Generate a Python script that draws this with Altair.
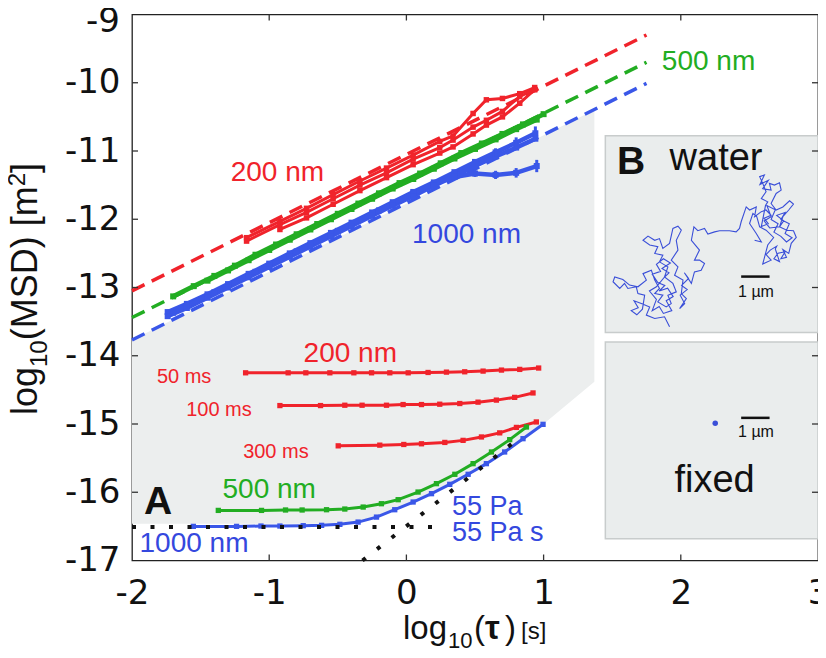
import altair as alt
import pandas as pd

W, H = 686, 546
FONT = "Liberation Sans"
TICKFONT = "DejaVu Sans"
RED = "#f0232b"
GREEN = "#22ad22"
BLUE = "#3a57e8"
TBLUE = "#3448de"
SHADE = "#eceeee"

# ---------------- data ----------------
x_ticks = [-2, -1, 0, 1, 2, 3]
y_ticks = [-17, -16, -15, -14, -13, -12, -11, -10, -9]

# diffusive fits (dashed)
fit_x = [-2.0, 1.75]
fit_red = [-13.05, -9.30]
fit_green = [-13.44, -9.70]
fit_blue = [-13.77, -10.01]

# free diffusion MSD curves (upper)
ra_x = [-1.165, -0.922, -0.728, -0.534, -0.339, -0.145, 0.049, 0.243, 0.34, 0.486, 0.583, 0.70, 0.826, 0.935]
ra_y = [-12.27, -12.03, -11.84, -11.64, -11.44, -11.25, -11.06, -10.86, -10.78, -10.45, -10.25, -10.23, -10.16, -10.07]
rb_x = [-0.922, -0.728, -0.534, -0.339, -0.145, 0.049, 0.243, 0.34, 0.486, 0.583, 0.70, 0.826, 0.935]
rb_y = [-12.15, -11.98, -11.78, -11.58, -11.39, -11.20, -11.03, -10.94, -10.75, -10.62, -10.50, -10.30, -10.10]
rc_x = [-1.165, -0.922, -0.728, -0.534, -0.339, -0.145, 0.049, 0.243, 0.34, 0.486, 0.583, 0.70, 0.826, 0.935]
rc_y = [-12.32, -12.08, -11.90, -11.70, -11.50, -11.32, -11.12, -10.95, -10.84, -10.65, -10.55, -10.42, -10.20, -10.10]

g1_x = [-1.70, -1.55, -1.40, -1.25, -1.10, -0.95, -0.80, -0.65, -0.50, -0.35, -0.20, -0.05, 0.10, 0.25, 0.40, 0.55, 0.70, 0.85, 1.00]
g1_y = [-13.13, -12.98, -12.83, -12.68, -12.52, -12.37, -12.22, -12.07, -11.92, -11.77, -11.62, -11.47, -11.33, -11.18, -11.03, -10.89, -10.75, -10.61, -10.46]
g2_x = [-1.45, -1.30, -1.15, -1.00, -0.85, -0.70, -0.55, -0.40, -0.25, -0.10, 0.05, 0.20, 0.35, 0.50, 0.65, 0.80, 0.95]
g2_y = [-12.90, -12.75, -12.60, -12.45, -12.30, -12.15, -12.00, -11.85, -11.70, -11.55, -11.41, -11.26, -11.11, -10.97, -10.83, -10.68, -10.54]

b1_x = [-1.74, -1.60, -1.45, -1.30, -1.15, -1.00, -0.85, -0.70, -0.55, -0.40, -0.25, -0.10, 0.05, 0.20, 0.35, 0.50, 0.65, 0.80, 0.94]
b1_y = [-13.36, -13.24, -13.10, -12.95, -12.80, -12.65, -12.50, -12.35, -12.20, -12.05, -11.90, -11.75, -11.60, -11.46, -11.31, -11.16, -11.02, -10.88, -10.74]
b2_y = [-13.42, -13.30, -13.15, -13.00, -12.85, -12.70, -12.55, -12.40, -12.25, -12.10, -11.95, -11.80, -11.66, -11.51, -11.37, -11.22, -11.08, -10.95, -10.82]
b3_x = [-1.70, -1.40, -1.10, -0.80, -0.50, -0.20, 0.05, 0.20, 0.35, 0.50, 0.65, 0.80, 0.95]
b3_y = [-13.37, -13.07, -12.77, -12.47, -12.17, -11.87, -11.62, -11.48, -11.38, -11.33, -11.35, -11.32, -11.22]

err_x = [0.50, 0.65, 0.80, 0.95, 0.65, 0.80, 0.94]
err_y = [-11.33, -11.35, -11.32, -11.22, -11.02, -10.88, -10.74]
err_h = [0.05, 0.06, 0.07, 0.09, 0.06, 0.08, 0.10]

# 200 nm particle in gel at three exposure times (lower red)
r50_x = [-1.172, -0.862, -0.733, -0.558, -0.383, -0.254, -0.121, 0.013, 0.158, 0.292, 0.425, 0.559, 0.693, 0.826, 0.964]
r50_y = [-14.25, -14.25, -14.25, -14.25, -14.25, -14.25, -14.25, -14.25, -14.245, -14.24, -14.235, -14.225, -14.21, -14.20, -14.18]
r100_x = [-0.922, -0.626, -0.449, -0.323, -0.145, -0.024, 0.110, 0.243, 0.389, 0.522, 0.656, 0.789, 0.923]
r100_y = [-14.73, -14.73, -14.725, -14.725, -14.725, -14.715, -14.715, -14.71, -14.70, -14.68, -14.65, -14.61, -14.545]
r300_x = [-0.497, -0.194, -0.019, 0.110, 0.280, 0.413, 0.547, 0.680, 0.802, 0.947]
r300_y = [-15.32, -15.31, -15.30, -15.29, -15.27, -15.24, -15.19, -15.13, -15.05, -14.97]

# 500 nm and 1000 nm in gel (lower)
g500_x = [-1.371, -1.056, -0.881, -0.760, -0.582, -0.449, -0.315, -0.182, -0.060, 0.085, 0.219, 0.353, 0.486, 0.620, 0.753, 0.875]
g500_y = [-16.266, -16.266, -16.26, -16.26, -16.256, -16.246, -16.217, -16.168, -16.109, -15.997, -15.874, -15.737, -15.581, -15.41, -15.229, -15.044]
b1000_x = [-1.553, -1.238, -1.060, -0.922, -0.752, -0.618, -0.485, -0.352, -0.218, -0.085, 0.049, 0.183, 0.316, 0.450, 0.583, 0.716, 0.850, 0.996]
b1000_y = [-16.50, -16.50, -16.495, -16.495, -16.49, -16.485, -16.47, -16.437, -16.364, -16.256, -16.143, -16.021, -15.884, -15.737, -15.581, -15.41, -15.215, -15.005]

# model asymptotes (dotted)
plateau_x = [-2.0, 0.195]
plateau_y = [-16.51, -16.51]
visc_x = [-0.32, 0.80]
visc_y = [-17.0, -15.24]

# shaded region
shade_x = [-2.0, -0.5, -0.35, -0.22, -0.09, 0.05, 0.18, 0.32, 0.45, 0.58, 0.72, 0.85, 1.0, 1.37]
shade_lo = [-16.46, -16.46, -16.43, -16.36, -16.26, -16.14, -16.02, -15.88, -15.73, -15.57, -15.40, -15.20, -15.0, -14.38]
shade_hi = [-13.77, -12.27, -12.12, -11.99, -11.86, -11.72, -11.59, -11.45, -11.32, -11.19, -11.05, -10.92, -10.77, -10.40]

# inset panels (in main-axis coordinates)
panel_x1 = [1.45, 1.45]
panel_x2 = [3.0, 3.0]
panel_y1 = [-10.777, -13.80]
panel_y2 = [-13.66, -16.68]

# trajectory of a bead in water, micrometres
traj_ux = [2.32, 2.14, 1.79, 1.49, 1.61, 1.31, 1.05, 1.20, 0.95, 1.15, 1.35, 1.43, 1.19, 1.13, 0.83, 0.71,
           0.54, 0.30, 0.36, 0.65, 0.89,
           1.19, 1.49, 1.37, 1.67, 1.79, 1.96, 1.79, 2.08, 1.90, 2.20, 2.38, 2.26, 2.56, 2.44, 2.14,
           2.30, 2.05, 2.35, 2.10, 1.85, 2.00, 1.70, 1.90, 2.15, 1.95, 2.25, 2.45, 2.20, 2.40, 2.10, 1.95,
           1.70, 1.85, 1.60, 1.85, 2.14, 2.26,
           1.96, 2.08, 1.79, 1.90, 1.61, 1.37, 1.55, 1.79, 1.96, 2.08, 2.32, 2.44, 2.62, 2.74, 2.56, 2.62,
           2.38, 2.62, 2.50, 2.80, 2.74, 2.92, 2.68, 2.86, 2.70, 2.95, 2.75, 3.00, 2.85,
           3.10, 3.21, 3.45, 3.57, 3.39, 3.21, 3.39, 3.10,
           3.19, 3.33, 3.57, 3.69, 3.93, 4.11, 4.46, 4.70, 4.82, 4.88, 5.06, 5.18, 5.42, 5.36, 5.60, 5.77,
           5.95, 5.70, 5.85, 5.60, 5.75,
           5.83, 5.60, 5.77, 5.65, 5.54, 5.71, 5.55, 5.85, 5.65, 5.95, 5.89, 6.07, 6.25, 6.31, 6.13, 5.95,
           6.13, 6.37, 6.61, 6.75, 6.58, 6.37, 6.25,
           6.40, 6.15, 6.45, 6.30, 6.60, 6.45, 6.70, 6.50, 6.30, 6.05, 6.20, 5.95, 6.10, 5.80, 5.95, 5.70,
           5.90, 6.25, 6.51, 6.75, 6.85, 6.67, 6.58, 6.37,
           6.50, 6.30, 6.45, 6.20, 6.05, 6.25, 6.10,
           6.15, 5.92, 5.77, 5.95, 5.65, 5.83, 6.04, 5.77, 5.54, 5.44, 5.30, 5.18, 5.42, 5.60, 5.36]
traj_uy = [0.12, 0.48, 0.42, 0.54, 0.83, 0.95, 1.05, 0.80, 0.70, 0.55, 0.75, 1.25, 1.31, 1.55, 1.49, 1.67,
           1.49, 1.73, 1.90, 1.81, 1.61,
           1.55, 1.79, 2.02, 2.14, 1.79, 1.49, 1.31, 1.25, 1.01, 0.83, 0.95, 1.25, 1.37, 1.67, 1.90,
           2.05, 2.20, 2.40, 2.55, 2.35, 2.10, 2.00, 1.70, 1.60, 1.40, 1.50, 1.20, 1.05, 0.70, 0.60, 0.85,
           0.70, 1.10, 1.40, 1.55, 1.90, 2.26,
           2.44, 2.68, 2.74, 2.98, 3.04, 3.21, 3.36, 3.21, 3.27, 2.92, 3.10, 3.63, 3.71, 3.57, 3.21, 2.86,
           2.50, 2.26, 1.96, 1.79, 1.31, 1.13, 0.77, 0.95, 1.25, 1.45, 1.60, 1.85, 2.05,
           1.67, 2.08, 2.14, 2.38, 2.50, 2.50, 2.86, 3.21,
           3.69, 3.55, 3.63, 3.43, 3.51, 3.55, 3.55, 3.51, 3.63, 3.87, 4.40, 4.29, 4.40, 4.05, 4.23, 4.29,
           4.10, 4.00, 3.80, 3.70, 4.45,
           4.58, 4.70, 4.94, 5.24, 5.48, 5.54, 5.20, 5.35, 5.05, 5.00, 5.24, 5.18, 5.26, 5.00, 4.88, 4.52,
           4.29, 4.40, 4.62, 4.50, 4.29, 4.05, 3.69,
           3.90, 4.10, 4.20, 3.95, 3.80, 3.45, 3.30, 3.15, 3.35, 3.50, 3.80, 3.95, 4.30, 4.45, 4.05, 3.90,
           3.65, 3.69, 3.57, 3.55, 3.31, 3.10, 2.74, 2.88,
           2.60, 2.55, 2.80, 2.75, 2.55, 2.45, 2.90,
           3.00, 2.86, 2.70, 2.50, 2.36, 3.04, 3.31, 3.57, 3.69, 4.05, 4.17, 3.81, 3.45, 3.15, 3.21]

# scale bars and fixed bead
bar_x1 = [2.44, 2.44]
bar_x2 = [2.647, 2.647]
bar_y = [-12.84, -14.91]
fixed_x = [2.251]
fixed_y = [-14.99]

# annotations
ann_text = ["200 nm", "1000 nm", "500 nm", "200 nm", "50 ms", "100 ms", "300 ms", "500 nm", "1000 nm",
            "55 Pa", "55 Pa s", "water", "fixed", "1 µm", "1 µm"]
ann_x = [-0.94, 0.438, 2.202, -0.409, -1.62, -1.366, -0.951, -1.0, -1.548, 0.589, 0.666, 2.257, 2.246, 2.548, 2.548]
ann_y = [-11.32, -12.23, -9.70, -13.98, -14.31, -14.79, -15.41, -15.97, -16.76, -16.22, -16.60, -11.12, -15.84, -13.07, -15.12]
ann_color = [RED, TBLUE, GREEN, RED, RED, RED, RED, GREEN, TBLUE, TBLUE, TBLUE, "#111111", "#111111", "#111111", "#111111"]
ann_size = [28, 28, 28, 28, 20, 20, 20, 28, 28, 27, 27, 38, 38, 16, 16]
panel_text = ["A", "B"]
panel_tx = [-1.81, 1.638]
panel_ty = [-16.14, -11.155]

# ---------------- chart ----------------
xs = alt.Scale(domain=[-2, 3], nice=False, zero=False)
ys = alt.Scale(domain=[-17, -9], nice=False, zero=False)
xaxis = alt.Axis(values=x_ticks, title=None, labelExpr="datum.value + ''", labelFontSize=34,
                 labelPadding=16, ticks=False, domain=False, grid=False, labelFont=TICKFONT,
                 labelColor="#111111", labelFlush=False)
# the top label (-9) is drawn separately, nudged down so it stays inside the canvas
yaxis = alt.Axis(values=y_ticks, title=None,
                 labelExpr="datum.value == -9 ? '' : datum.value + ''", labelFontSize=34,
                 labelPadding=12, ticks=False, domain=False, grid=False, labelFont=TICKFONT,
                 labelColor="#111111")


def X(f="x"):
    return alt.X(f + ":Q", scale=xs, axis=xaxis)


def Y(f="y"):
    return alt.Y(f + ":Q", scale=ys, axis=yaxis)


def series(pairs):
    rows = []
    for sid, (xx, yy, col) in enumerate(pairs):
        for i, (a, b) in enumerate(zip(xx, yy)):
            rows.append({"x": a, "y": b, "id": sid, "i": i, "c": col})
    return pd.DataFrame(rows)


shade_df = pd.DataFrame({"x": shade_x, "lo": shade_lo, "hi": shade_hi})
shade = alt.Chart(shade_df).mark_area(color=SHADE, opacity=1).encode(
    x=X(), y=Y("lo"), y2="hi:Q")

panels = alt.Chart(pd.DataFrame({"x": panel_x1, "x2": panel_x2, "y": panel_y1, "y2": panel_y2})).mark_rect(
    fill="#eaeded", stroke="#c8cccc", strokeWidth=1.5).encode(x=X(), x2="x2:Q", y=Y(), y2="y2:Q")

fits = alt.Chart(series([(fit_x, fit_red, RED), (fit_x, fit_green, GREEN), (fit_x, fit_blue, BLUE)])).mark_line(
    strokeDash=[14, 8], strokeWidth=3.5).encode(
    x=X(), y=Y(), detail="id:N", order="i:Q", color=alt.Color("c:N", scale=None))

upper_red = series([(ra_x, ra_y, RED), (rb_x, rb_y, RED), (rc_x, rc_y, RED)])
upper_gb = series([(g1_x, g1_y, GREEN), (g2_x, g2_y, GREEN),
                   (b1_x, b1_y, BLUE), (b1_x, b2_y, BLUE), (b3_x, b3_y, BLUE)])
up_red = alt.Chart(upper_red).mark_line(strokeWidth=3, point=alt.OverlayMarkDef(
    shape="square", size=30, filled=True, opacity=1)).encode(
    x=X(), y=Y(), detail="id:N", order="i:Q", color=alt.Color("c:N", scale=None))
up_gb = alt.Chart(upper_gb).mark_line(strokeWidth=4.5, point=alt.OverlayMarkDef(
    shape="square", size=36, filled=True, opacity=1)).encode(
    x=X(), y=Y(), detail="id:N", order="i:Q", color=alt.Color("c:N", scale=None))

errs = alt.Chart(pd.DataFrame({"x": err_x, "y": err_y, "h": err_h})).transform_calculate(
    lo="datum.y - datum.h", hi="datum.y + datum.h").mark_rule(color=BLUE, strokeWidth=3).encode(
    x=X(), y=Y("lo"), y2="hi:Q")

lower = series([(r50_x, r50_y, RED), (r100_x, r100_y, RED), (r300_x, r300_y, RED),
                (g500_x, g500_y, GREEN), (b1000_x, b1000_y, BLUE)])
low_lines = alt.Chart(lower).mark_line(strokeWidth=3, point=alt.OverlayMarkDef(
    shape="square", size=28, filled=True, opacity=1)).encode(
    x=X(), y=Y(), detail="id:N", order="i:Q", color=alt.Color("c:N", scale=None))

dots = alt.Chart(series([(plateau_x, plateau_y, "k"), (visc_x, visc_y, "k")])).mark_line(
    color="#111111", strokeWidth=4, strokeDash=[4, 14.5]).encode(
    x=X(), y=Y(), detail="id:N", order="i:Q")

traj_df = pd.DataFrame({"ux": traj_ux, "uy": traj_uy, "i": list(range(len(traj_ux)))})
traj = alt.Chart(traj_df).transform_calculate(
    x="1.445 + 0.2039 * datum.ux", y="-13.626 + 0.4106 * datum.uy").mark_line(
    color="#3a4fd8", strokeWidth=1.1).encode(x=X(), y=Y(), order="i:Q")

bars = alt.Chart(pd.DataFrame({"x": bar_x1, "x2": bar_x2, "y": bar_y})).mark_rule(
    color="#111111", strokeWidth=2.5).encode(x=X(), x2="x2:Q", y=Y())

fixed = alt.Chart(pd.DataFrame({"x": fixed_x, "y": fixed_y})).mark_point(
    shape="circle", filled=True, size=30, color="#3a4fd8", opacity=1).encode(x=X(), y=Y())

ann = alt.Chart(pd.DataFrame({"t": ann_text, "x": ann_x, "y": ann_y, "c": ann_color, "s": ann_size})).mark_text(
    font=FONT, align="center", baseline="middle").encode(
    x=X(), y=Y(), text="t:N", color=alt.Color("c:N", scale=None), size=alt.Size("s:Q", scale=None))

panel_lbl = alt.Chart(pd.DataFrame({"t": panel_text, "x": panel_tx, "y": panel_ty})).mark_text(
    font=FONT, fontWeight="bold", fontSize=39, color="#111111", align="center", baseline="middle").encode(
    x=X(), y=Y(), text="t:N")

top_label = alt.Chart(pd.DataFrame({"t": ["-9"], "y": [-9]})).mark_text(
    font=TICKFONT, fontSize=34, color="#111111", align="right", baseline="middle", dy=7).encode(
    text="t:N", y=Y(), x=alt.value(-12))

# inward ticks on all four sides
inner_x = [-1, 0, 1, 2]
inner_y = [-16, -15, -14, -13, -12, -11, -10]
TL = 6
tx_df = pd.DataFrame({"x": inner_x})
ty_df = pd.DataFrame({"y": inner_y})
tick_b = alt.Chart(tx_df).mark_rule(color="#333333", strokeWidth=1.3).encode(
    x=X(), y=alt.value(H), y2=alt.value(H - TL))
tick_t = alt.Chart(tx_df).mark_rule(color="#333333", strokeWidth=1.3).encode(
    x=X(), y=alt.value(0), y2=alt.value(TL))
tick_l = alt.Chart(ty_df).mark_rule(color="#333333", strokeWidth=1.3).encode(
    y=Y(), x=alt.value(0), x2=alt.value(TL))
tick_r = alt.Chart(ty_df).mark_rule(color="#333333", strokeWidth=1.3).encode(
    y=Y(), x=alt.value(W), x2=alt.value(W - TL))


# axis titles built from pieces (sub/superscripts)
def piece(text, px, py, size, angle=0, weight="normal", align="left"):
    return alt.Chart(pd.DataFrame({"t": [text]})).mark_text(
        font=FONT, fontSize=size, fontWeight=weight, angle=angle, align=align,
        baseline="alphabetic", color="#111111").encode(
        text="t:N", x=alt.value(px), y=alt.value(py))


xt = [piece("log", 271, 624, 33), piece("10", 316, 633, 22), piece("(", 342, 624, 33),
      piece("τ", 353, 624, 33, weight="bold"), piece(")", 373, 624, 33), piece("[s]", 389, 624, 24)]
yt = [piece("log", -95, 400.5, 36, angle=270), piece("10", -85, 352.5, 24, angle=270),
      piece("(MSD) [m", -95, 325.8, 36, angle=270), piece("2", -107, 171.8, 24, angle=270),
      piece("]", -95, 158.5, 36, angle=270)]

chart = alt.layer(
    shade, panels, fits, up_red, up_gb, errs, low_lines, dots, traj, bars, fixed, ann, panel_lbl,
    top_label, tick_b, tick_t, tick_l, tick_r, *xt, *yt
).properties(
    width=W, height=H,
    autosize=alt.AutoSizeParams(type="none"),
    padding={"left": 124, "top": 6.5, "right": 0, "bottom": 89},
).configure_view(stroke="#222222", strokeWidth=1.3)

chart.save("out.html", embed_options={"renderer": "svg", "actions": False})
